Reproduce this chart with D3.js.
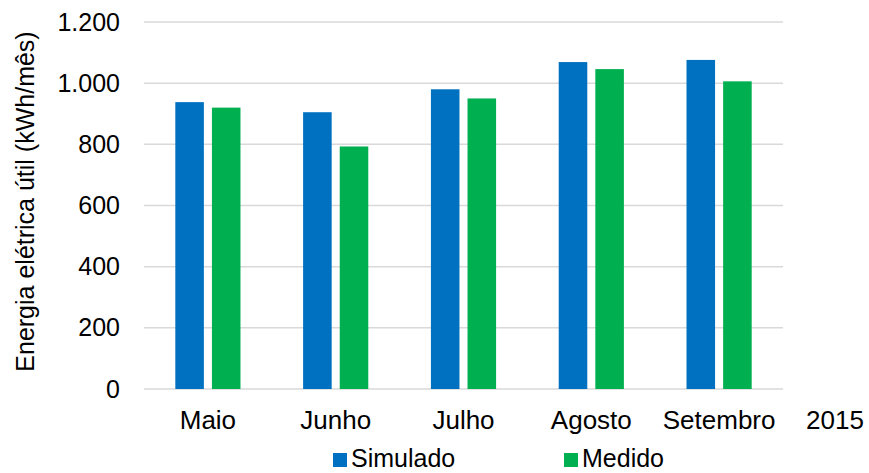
<!DOCTYPE html>
<html>
<head>
<meta charset="utf-8">
<script src="https://cdn.jsdelivr.net/npm/d3@7"></script>
<style>
  body { margin: 0; background: #fff; }
  svg { display: block; font-family: "Liberation Sans", Arial, sans-serif; }
</style>
</head>
<body>
<svg id="chart" width="869" height="473"></svg>
<script>
// Monthly useful electric energy (kWh/month), 2015
const months = ["Maio", "Junho", "Julho", "Agosto", "Setembro"];
const simulado = [938, 905, 980, 1069, 1076];
const medido = [920, 793, 950, 1046, 1006];
const seriesNames = ["Simulado", "Medido"];
const seriesColors = ["#0070C0", "#00B050"];
const yTicks = [0, 200, 400, 600, 800, 1000, 1200];
const yearLabel = "2015";
const yTitle = "Energia elétrica útil (kWh/mês)";

const FONT = "Liberation Sans, Arial, sans-serif";
const svg = d3.select("#chart");
const margin = { left: 144, right: 86, top: 22, bottom: 84 };
const W = 869, H = 473;
const innerW = W - margin.left - margin.right;
const innerH = H - margin.top - margin.bottom;

const g = svg.append("g").attr("transform", `translate(${margin.left},${margin.top})`);

const x = d3.scaleBand().domain(months).range([0, innerW]).paddingInner(0).paddingOuter(0);
const x1 = d3.scaleBand().domain(seriesNames).range([x.bandwidth() * 0.245, x.bandwidth() * 0.755]).paddingInner(0.22);
const y = d3.scaleLinear().domain([0, 1200]).range([innerH, 0]);

const ptBR = d3.formatLocale({ decimal: ",", thousands: ".", grouping: [3], currency: ["R$", ""] });
const fmt = ptBR.format(",");

// gridlines
g.append("g")
  .selectAll("line")
  .data(yTicks)
  .join("line")
  .attr("x1", 0).attr("x2", innerW)
  .attr("y1", d => y(d)).attr("y2", d => y(d))
  .attr("stroke", "#d9d9d9").attr("stroke-width", 1.5);

// y axis labels
const yAxis = d3.axisLeft(y).tickValues(yTicks).tickFormat(fmt).tickSize(0).tickPadding(24);
g.append("g").call(yAxis)
  .attr("font-size", 25).attr("font-family", FONT)
  .call(s => s.select(".domain").remove())
  .selectAll("text")
  .attr("fill", "#000");

// bars
const data = months.map((m, i) => ({ month: m, values: [simulado[i], medido[i]] }));
const groups = g.selectAll(".grp").data(data).join("g")
  .attr("class", "grp")
  .attr("transform", d => `translate(${x(d.month)},0)`);
groups.selectAll("rect")
  .data(d => d.values.map((v, k) => ({ key: seriesNames[k], v, k })))
  .join("rect")
  .attr("x", d => x1(d.key))
  .attr("width", x1.bandwidth())
  .attr("y", d => y(d.v))
  .attr("height", d => y(0) - y(d.v))
  .attr("fill", d => seriesColors[d.k]);

// x axis labels
const xAxis = d3.axisBottom(x).tickSize(0).tickPadding(22);
g.append("g").attr("transform", `translate(0,${innerH})`).call(xAxis)
  .attr("font-size", 26).attr("font-family", FONT)
  .call(s => s.select(".domain").remove())
  .selectAll("text")
  .attr("fill", "#000");

// year label after the last category
g.append("text")
  .attr("x", innerW + 52).attr("y", innerH + 22)
  .attr("dy", "0.71em")
  .attr("text-anchor", "middle")
  .attr("font-size", 26)
  .text(yearLabel);

// y title
svg.append("text")
  .attr("transform", `translate(34,${margin.top + innerH / 2 - 4}) rotate(-90)`)
  .attr("text-anchor", "middle")
  .attr("font-size", 25)
  .text(yTitle);

// legend
const legendX = [333, 564];
seriesNames.forEach((name, i) => {
  svg.append("rect")
    .attr("x", legendX[i]).attr("y", 453)
    .attr("width", 14).attr("height", 14)
    .attr("fill", seriesColors[i]);
  svg.append("text")
    .attr("x", legendX[i] + 18).attr("y", 467)
    .attr("font-size", 25)
    .text(name);
});
</script>
</body>
</html>
